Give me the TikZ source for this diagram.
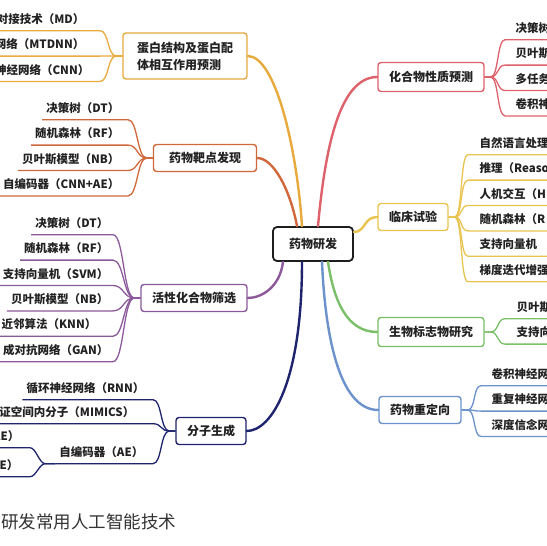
\documentclass[tikz,border=0pt]{standalone}
\usepackage{fontspec}
\setmainfont{Noto Sans CJK SC}
\usepackage{xcolor}
\usetikzlibrary{positioning}
\definecolor{rootcolor}{RGB}{30,30,30}
\definecolor{protcolor}{RGB}{232,170,60}
\definecolor{targcolor}{RGB}{208,104,60}
\definecolor{actcolor}{RGB}{140,90,155}
\definecolor{molcolor}{RGB}{30,36,110}
\definecolor{propcolor}{RGB}{222,98,108}
\definecolor{clincolor}{RGB}{234,196,80}
\definecolor{biocolor}{RGB}{122,192,104}
\definecolor{repocolor}{RGB}{108,146,204}
\definecolor{textcolor}{RGB}{34,34,34}
\definecolor{captioncolor}{RGB}{51,51,51}

\begin{document}
\begin{tikzpicture}[
    x=1pt, y=-1pt,
    node distance=4pt,
    topic/.style={rectangle, draw=#1, fill=white, line width=1.4pt, rounded corners=3pt,
    minimum height=27pt, inner xsep=11pt, inner ysep=2pt, align=center,
    font=\fontsize{12}{17}\selectfont\bfseries, text=textcolor},
    leaf/.style={inner xsep=4pt, inner ysep=0pt, text height=9pt, text depth=2.5pt,
    minimum height=21pt, font=\fontsize{11.5}{13}\selectfont\bfseries, text=textcolor},
    leafl/.style={leaf, anchor=east},
    leafr/.style={leaf, anchor=west, text width=84pt, align=left},
    branch/.style={draw=#1, line width=2.4pt, line cap=round},
    twig/.style={draw=#1, line width=1.3pt}
]
\useasboundingbox (0,0) rectangle (547,546);
\clip (0,0) rectangle (547,546);
\fill[white] (0,0) rectangle (547,546);

% main topics
\node[topic=rootcolor, minimum width=80pt, minimum height=34pt, line width=1.8pt, rounded corners=4pt] (root) at (313,244) {药物研发};
\node[topic=protcolor, minimum width=124pt, minimum height=46pt, align=left] (prot) at (185,56) {蛋白结构及蛋白配\\体相互作用预测};
\node[topic=targcolor, minimum width=103pt] (targ) at (205,158) {药物靶点发现};
\node[topic=actcolor] (act) at (194,298) {活性化合物筛选};
\node[topic=molcolor] (mol) at (211,431) {分子生成};
\node[topic=propcolor, minimum height=29pt] (prop) at (431,77) {化合物性质预测};
\node[topic=clincolor] (clin) at (413,217) {临床试验};
\node[topic=biocolor, minimum height=29pt] (bio) at (431,332) {生物标志物研究};
\node[topic=repocolor] (repo) at (420,410) {药物重定向};

% left leaves
\node[leafl] (a1) at (88.5,20) {对接技术（MD）};
\node[leafl, below=of a1.south east, anchor=north east] (a2) {网络（MTDNN）};
\node[leafl, below=of a2.south east, anchor=north east, xshift=5pt] (a3) {神经网络（CNN）};

\node[leafl] (b1) at (123.5,109) {决策树（DT）};
\node[leafl, below=of b1.south east, anchor=north east] (b2) {随机森林（RF）};
\node[leafl, below=of b2.south east, anchor=north east] (b3) {贝叶斯模型（NB）};
\node[leafl, below=of b3.south east, anchor=north east] (b4) {自编码器（CNN+AE）};

\node[leafl] (c1) at (112.5,224) {决策树（DT）};
\node[leafl, below=of c1.south east, anchor=north east] (c2) {随机森林（RF）};
\node[leafl, below=of c2.south east, anchor=north east] (c3) {支持向量机（SVM）};
\node[leafl, below=of c3.south east, anchor=north east] (c4) {贝叶斯模型（NB）};
\node[leafl, below=of c4.south east, anchor=north east, xshift=-12pt] (c5) {近邻算法（KNN）};
\node[leafl, below=of c5.south east, anchor=north east, xshift=12pt] (c6) {成对抗网络（GAN）};

\node[leafl] (d1) at (148.5,389) {循环神经网络（RNN）};
\node[leafl] (d2) at (138.5,413) {证空间内分子（MIMICS）};
\node[leafl] (d3) at (147.5,453) {自编码器（AE）};
\node[leafl] (v1) at (23.5,437) {AE）};
\node[leafl] (v2) at (22.5,466) {E）};

% right leaves
\node[leafr] (e1) at (511.5,29) {决策树};
\node[leafr, below=of e1.south west, anchor=north west] (e2) {贝叶斯};
\node[leafr, below=of e2.south west, anchor=north west] (e3) {多任务};
\node[leafr, below=of e3.south west, anchor=north west] (e4) {卷积神};

\node[leafr] (f1) at (475.5,144) {自然语言处理};
\node[leafr, below=of f1.south west, anchor=north west] (f2) {推理（Reaso};
\node[leafr, below=of f2.south west, anchor=north west] (f3) {人机交互（H};
\node[leafr, below=of f3.south west, anchor=north west] (f4) {随机森林（R};
\node[leafr, below=of f4.south west, anchor=north west] (f5) {支持向量机};
\node[leafr, below=of f5.south west, anchor=north west] (f6) {梯度迭代增强};

\node[leafr] (g1) at (512.5,308) {贝叶斯};
\node[leafr, below=of g1.south west, anchor=north west] (g2) {支持向};

\node[leafr] (h1) at (487.5,375) {卷积神经网};
\node[leafr, below=of h1.south west, anchor=north west] (h2) {重复神经网};
\node[leafr, below=of h2.south west, anchor=north west] (h3) {深度信念网};

\node[anchor=west, inner sep=0pt, font=\fontsize{17.5}{17.5}\selectfont, text=captioncolor] (cap) at (1,522) {研发常用人工智能技术};

% branches from the root
\draw[branch=protcolor] ([xshift=-11pt]root.north) .. controls +(-5,-77) and +(28,0) .. (prot.east);
\draw[branch=targcolor] ([xshift=-16pt]root.north) .. controls +(-7,-37) and +(16,0) .. (targ.east);
\draw[branch=propcolor] ([xshift=5pt]root.north) .. controls +(7,-77) and +(-38,0) .. (prop.west);
\draw[branch=clincolor] ([yshift=12pt]root.east) .. controls +(12,0) and +(-14,0) .. (clin.west);
\draw[branch=biocolor] ([xshift=15pt]root.south) .. controls +(6,40) and +(-30,0) .. (bio.west);
\draw[branch=repocolor] ([xshift=9pt]root.south) .. controls +(3,70) and +(-40,0) .. (repo.west);
\draw[branch=molcolor] ([xshift=-11pt]root.south) .. controls +(0,120) and +(25,0) .. (mol.east);
\draw[branch=actcolor] ([xshift=-30pt]root.south) .. controls +(-3,25) and +(14,0) .. (act.east);

% twigs to the leaves
\coordinate (ka) at (100,0);
\coordinate (kb) at (128,0);
\coordinate (kc) at (113,0);
\coordinate (kd) at (153,0);
\coordinate (kv) at (30,0);
\coordinate (ke) at (505,0);
\coordinate (kf) at (468,0);
\coordinate (kg) at (505,0);
\coordinate (kh) at (481,0);
\foreach \l in {a1,a2,a3}
  \draw[twig=protcolor] (prot.west) -- ++(-6,0) .. controls +(-9,0) and +(9,0) .. (ka |- \l.south) -- (\l.south west);
\foreach \l in {b1,b2,b3,b4}
  \draw[twig=targcolor] (targ.west) -- ++(-6,0) .. controls +(-10,0) and +(10,0) .. (kb |- \l.south) -- (\l.south west);
\foreach \l in {c1,c2,c3,c4,c5,c6}
  \draw[twig=actcolor] (act.west) -- ++(-6,0) .. controls +(-11,0) and +(11,0) .. (kc |- \l.south) -- (\l.south west);
\foreach \l in {d1,d2,d3}
  \draw[twig=molcolor] (mol.west) -- ++(-6,0) .. controls +(-9,0) and +(9,0) .. (kd |- \l.south) -- (\l.south west);
\foreach \l in {v1,v2}
  \draw[twig=molcolor] (d3.south west) -- ++(-10,0) .. controls +(-6,0) and +(6,0) .. (kv |- \l.south) -- (\l.south west);
\foreach \l in {e1,e2,e3,e4}
  \draw[twig=propcolor] (prop.east) -- ++(6,0) .. controls +(8,0) and +(-8,0) .. (ke |- \l.south) -- (\l.south east);
\foreach \l in {f1,f2,f3,f4,f5,f6}
  \draw[twig=clincolor] (clin.east) -- ++(6,0) .. controls +(8,0) and +(-8,0) .. (kf |- \l.south) -- (\l.south east);
\foreach \l in {g1,g2}
  \draw[twig=biocolor] (bio.east) -- ++(6,0) .. controls +(8,0) and +(-8,0) .. (kg |- \l.south) -- (\l.south east);
\foreach \l in {h1,h2,h3}
  \draw[twig=repocolor] (repo.east) -- ++(6,0) .. controls +(8,0) and +(-8,0) .. (kh |- \l.south) -- (\l.south east);
\end{tikzpicture}
\end{document}
